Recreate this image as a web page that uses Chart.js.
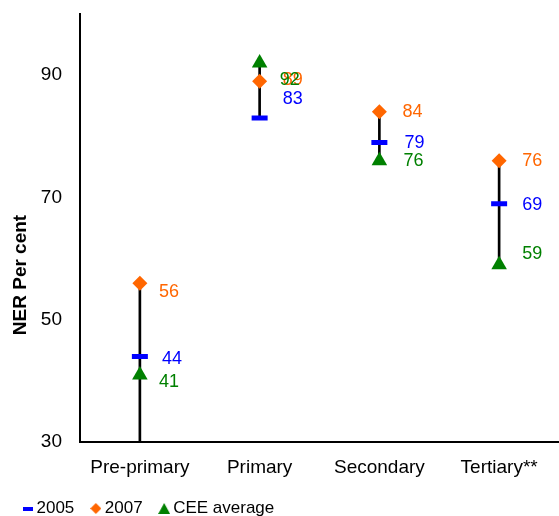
<!DOCTYPE html>
<html><head><meta charset="utf-8">
<script src="https://cdn.jsdelivr.net/npm/chart.js@4.4.0/dist/chart.umd.min.js"></script>
<style>html,body{margin:0;padding:0;overflow:hidden;background:#fff}#wrap{width:572px;height:516px}</style>
</head><body><div id="wrap"><canvas id="c" width="572" height="516"></canvas></div>
<script>
const categories = ['Pre-primary', 'Primary', 'Secondary', 'Tertiary**'];
const ner2005 = [44, 83, 79, 69];
const ner2007 = [56, 89, 84, 76];
const ceeAverage = [41, 92, 76, 59];
const rangeLow = [30, 83, 76, 59];
const rangeHigh = [56, 92, 84, 76];
const yTicks = [30, 50, 70, 90];
const yTitle = 'NER Per cent';

const FONT = "'Liberation Sans', Arial, sans-serif";
const BLUE = '#0000FF', ORANGE = '#FF6600', GREEN = '#008000';

// label offsets (pixels) relative to each point: [dx, dy]
const labelOffsets = {
  '2005': [[22, 2], [23, -19], [25, 1], [23, 1]],
  '2007': [[19, 9], [23, -1], [23, 0], [23, 0]],
  'CEE average': [[19, 7], [20, 17], [24, 0], [23, -11]]
};

function legendImg(kind, color) {
  const c = document.createElement('canvas');
  const ctx = c.getContext('2d');
  if (kind === 'dash') {
    c.width = 10; c.height = 4; ctx.fillStyle = color; ctx.fillRect(0, 0, 10, 4);
  } else if (kind === 'diamond') {
    c.width = 11; c.height = 11; ctx.fillStyle = color;
    ctx.beginPath(); ctx.moveTo(5.5, 0); ctx.lineTo(11, 5.5); ctx.lineTo(5.5, 11); ctx.lineTo(0, 5.5); ctx.closePath(); ctx.fill();
  } else {
    c.width = 12; c.height = 11; ctx.fillStyle = color;
    ctx.beginPath(); ctx.moveTo(6, 0); ctx.lineTo(12, 11); ctx.lineTo(0, 11); ctx.closePath(); ctx.fill();
  }
  return c;
}
const legendMarkers = {
  '2005': legendImg('dash', BLUE),
  '2007': legendImg('diamond', ORANGE),
  'CEE average': legendImg('triangle', GREEN)
};

const labelPlugin = {
  id: 'valueLabels',
  afterDatasetsDraw(chart) {
    const ctx = chart.ctx;
    ctx.save();
    ctx.font = '18px ' + FONT;
    ctx.textAlign = 'left';
    ctx.textBaseline = 'middle';
    chart.data.datasets.forEach((ds, di) => {
      if (ds.type !== 'line') return;
      const meta = chart.getDatasetMeta(di);
      const offs = labelOffsets[ds.label];
      meta.data.forEach((pt, i) => {
        ctx.fillStyle = ds.labelColor;
        ctx.fillText(String(ds.data[i]), pt.x + offs[i][0], pt.y + offs[i][1]);
      });
    });
    // y axis title
    ctx.font = 'bold 19px ' + FONT;
    ctx.fillStyle = '#000';
    ctx.textAlign = 'center';
    ctx.translate(21, 275);
    ctx.rotate(-Math.PI / 2);
    ctx.fillText(yTitle, 0, 0);
    ctx.restore();
  }
};

new Chart(document.getElementById('c'), {
  type: 'bar',
  data: {
    labels: categories,
    datasets: [
      {
        type: 'bar', label: 'range',
        data: rangeLow.map((l, i) => [l, rangeHigh[i]]),
        backgroundColor: '#000', borderWidth: 0, barThickness: 2, order: 10
      },
      {
        type: 'line', label: '2005', data: ner2005, showLine: false,
        pointStyle: 'line', pointRadius: 8, pointBorderWidth: 5,
        borderColor: BLUE, backgroundColor: BLUE, labelColor: BLUE, order: 3
      },
      {
        type: 'line', label: '2007', data: ner2007, showLine: false,
        pointStyle: 'rectRot', pointRadius: 7.5, pointBorderWidth: 0,
        borderColor: ORANGE, backgroundColor: ORANGE, labelColor: ORANGE, order: 2
      },
      {
        type: 'line', label: 'CEE average', data: ceeAverage, showLine: false,
        pointStyle: 'triangle', pointRadius: 9, pointBorderWidth: 0,
        borderColor: GREEN, backgroundColor: GREEN, labelColor: GREEN, order: 1
      }
    ]
  },
  options: {
    responsive: false,
    animation: false,
    devicePixelRatio: 1,
    layout: { padding: { left: 6, top: 14, right: 0, bottom: -11 } },
    plugins: {
      tooltip: { enabled: false },
      legend: {
        position: 'bottom',
        align: 'start',
        labels: {
          usePointStyle: true,
          pointStyleWidth: 1,
          padding: 21,
          color: '#000',
          font: { family: FONT, size: 17 },
          generateLabels(chart) {
            return chart.data.datasets
              .map((ds, i) => ({ ds, i }))
              .filter(o => o.ds.type === 'line')
              .map(o => ({
                text: o.ds.label,
                pointStyle: legendMarkers[o.ds.label],
                fillStyle: o.ds.backgroundColor,
                strokeStyle: o.ds.borderColor,
                lineWidth: 0,
                datasetIndex: o.i,
                hidden: false,
                fontColor: '#000'
              }));
          }
        }
      }
    },
    scales: {
      x: {
        afterFit(scale) { scale.height -= 14; },
        grid: { display: false, drawTicks: false },
        border: { display: true, color: '#000', width: 2 },
        ticks: { color: '#000', font: { family: FONT, size: 19 }, padding: 14, maxRotation: 0 }
      },
      y: {
        min: 30, max: 100,
        afterFit(scale) { scale.width = 74; scale.paddingTop = 0; },
        afterBuildTicks(scale) { scale.ticks = yTicks.map(v => ({ value: v })); },
        grid: { display: false, drawTicks: false },
        border: { display: true, color: '#000', width: 2 },
        ticks: { color: '#000', font: { family: FONT, size: 19 }, padding: 18 }
      }
    }
  },
  plugins: [labelPlugin]
});
</script>
</body></html>
